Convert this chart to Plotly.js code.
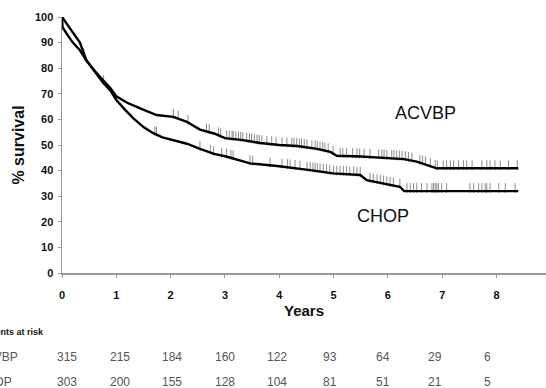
<!DOCTYPE html>
<html><head><meta charset="utf-8">
<script src="https://cdn.plot.ly/plotly-3.0.1.min.js"></script>
<style>html,body{margin:0;padding:0;background:#fff;}#chart{width:546px;height:388px;}</style>
</head><body><div id="chart"></div>
<script>
// ---- data ----
const acvbpTimes = [0, 0.01, 0.1, 0.2, 0.33, 0.45, 0.6, 0.75, 0.9, 1.0, 1.2, 1.44, 1.6, 1.74, 2.05, 2.3, 2.54, 2.8, 3.0, 3.3, 3.65, 4.0, 4.33, 4.7, 4.94, 5.06, 5.5, 6.04, 6.3, 6.53, 6.75, 6.9, 8.4];
const acvbpSurv  = [100, 96, 93, 90, 87, 83, 79, 75.5, 72, 69, 66.5, 64.3, 63, 61.7, 61, 59, 56, 54.5, 52.7, 52, 50.8, 50, 49.6, 48.5, 47.3, 45.8, 45.5, 45, 44.5, 43.5, 42, 40.9, 40.9];
const chopTimes  = [0, 0.1, 0.2, 0.33, 0.45, 0.6, 0.75, 0.9, 1.0, 1.15, 1.31, 1.5, 1.68, 1.85, 2.05, 2.3, 2.54, 2.8, 3.04, 3.2, 3.46, 3.96, 4.3, 4.57, 4.99, 5.49, 5.61, 5.9, 6.22, 6.3, 8.4];
const chopSurv   = [100, 97, 93.5, 90, 83, 78.5, 74.5, 71, 67.6, 64, 60.5, 57, 54.6, 53, 52, 50.5, 48.5, 46.5, 45.4, 44.5, 42.8, 41.8, 41, 40.2, 38.9, 38.3, 36.3, 35, 33.7, 32, 32];
const acvbpCensor = [0.4, 2.05, 2.14, 2.32, 2.66, 2.71, 2.88, 2.92, 3.03, 3.08, 3.13, 3.15, 3.20, 3.25, 3.29, 3.33, 3.40, 3.45, 3.49, 3.54, 3.59, 3.63, 3.68, 3.77, 3.86, 3.94, 4.05, 4.14, 4.23, 4.27, 4.32, 4.37, 4.41, 4.46, 4.51, 4.60, 4.66, 4.70, 4.75, 4.80, 4.84, 4.90, 4.99, 5.12, 5.17, 5.24, 5.35, 5.43, 5.48, 5.56, 5.67, 5.83, 5.89, 5.93, 5.98, 6.07, 6.11, 6.16, 6.21, 6.26, 6.32, 6.38, 6.44, 6.59, 6.64, 6.69, 6.78, 6.87, 6.91, 7.02, 7.08, 7.15, 7.21, 7.30, 7.39, 7.45, 7.55, 7.73, 7.82, 7.88, 7.97, 8.07, 8.22, 8.38];
const chopCensor = [0.76, 1.71, 1.74, 2.54, 2.73, 2.79, 2.94, 3.03, 3.11, 3.15, 3.46, 3.51, 3.83, 4.05, 4.15, 4.20, 4.29, 4.38, 4.51, 4.57, 4.62, 4.66, 4.70, 4.75, 4.81, 4.87, 4.93, 5.00, 5.06, 5.12, 5.18, 5.24, 5.30, 5.37, 5.43, 5.49, 5.67, 5.73, 5.80, 5.86, 5.92, 5.98, 6.04, 6.10, 6.22, 6.35, 6.41, 6.47, 6.53, 6.62, 6.72, 6.81, 6.84, 6.87, 6.90, 6.93, 6.99, 7.08, 7.51, 7.58, 7.67, 7.73, 7.79, 7.82, 7.88, 8.04, 8.16, 8.34];
const xTicks = [0, 1, 2, 3, 4, 5, 6, 7, 8];
const yTicks = [0, 10, 20, 30, 40, 50, 60, 70, 80, 90, 100];
const groups = ['ACVBP', 'CHOP'];
const atRiskACVBP = [315, 215, 184, 160, 122, 93, 64, 29, 6];
const atRiskCHOP  = [303, 200, 155, 128, 104, 81, 51, 21, 5];
const riskTitle = 'Patients at risk';

// ---- helpers ----
function survAt(times, vals, t) {
  for (let i = 1; i < times.length; i++) {
    if (t <= times[i]) {
      const f = (t - times[i - 1]) / (times[i] - times[i - 1]);
      return vals[i - 1] + f * (vals[i] - vals[i - 1]);
    }
  }
  return vals[vals.length - 1];
}
const tickOffset = 1.2;
const FONT = 'Liberation Sans, Arial, sans-serif';

const curveLine = {color: '#000', width: 2.4, shape: 'linear'};
const censorMarker = {symbol: 'line-ns-open', size: 7, color: '#8c8c8c', line: {color: '#8c8c8c', width: 1}};

const traces = [
  {x: acvbpCensor, y: acvbpCensor.map(t => survAt(acvbpTimes, acvbpSurv, t) + tickOffset), mode: 'markers', marker: censorMarker, hoverinfo: 'skip', cliponaxis: false},
  {x: chopCensor, y: chopCensor.map(t => survAt(chopTimes, chopSurv, t) + tickOffset), mode: 'markers', marker: censorMarker, hoverinfo: 'skip', cliponaxis: false},
  {x: acvbpTimes, y: acvbpSurv, mode: 'lines', line: curveLine, name: groups[0], cliponaxis: false},
  {x: chopTimes, y: chopSurv, mode: 'lines', line: curveLine, name: groups[1], cliponaxis: false}
];

const numFont = {family: FONT, size: 12, color: '#555'};
const annotations = [
  {x: 6.7, y: 62.5, xref: 'x', yref: 'y', text: groups[0], showarrow: false, font: {family: FONT, size: 18, color: '#111'}},
  {x: 5.91, y: 22.3, xref: 'x', yref: 'y', text: groups[1], showarrow: false, font: {family: FONT, size: 18, color: '#111'}},
  {x: -0.033, y: -0.23, xref: 'paper', yref: 'paper', xanchor: 'right', yanchor: 'middle', text: '<b>' + riskTitle + '</b>', showarrow: false, font: {family: FONT, size: 9, color: '#111'}},
  {x: -0.18, y: -0.328, xref: 'paper', yref: 'paper', xanchor: 'left', yanchor: 'middle', text: groups[0], showarrow: false, font: numFont},
  {x: -0.18, y: -0.426, xref: 'paper', yref: 'paper', xanchor: 'left', yanchor: 'middle', text: groups[1], showarrow: false, font: numFont}
];
xTicks.forEach((t, i) => {
  annotations.push({x: t, y: -0.328, xref: 'x', yref: 'paper', xshift: 5 - 1.7 * i, yanchor: 'middle', text: String(atRiskACVBP[i]), showarrow: false, font: numFont});
  annotations.push({x: t, y: -0.426, xref: 'x', yref: 'paper', xshift: 5 - 1.7 * i, yanchor: 'middle', text: String(atRiskCHOP[i]), showarrow: false, font: numFont});
});

const layout = {
  width: 546, height: 388,
  margin: {l: 62, r: 0, t: 17, b: 115},
  paper_bgcolor: '#fff', plot_bgcolor: '#fff',
  showlegend: false,
  font: {family: FONT, color: '#111'},
  xaxis: {
    range: [0, 8.91], tickvals: xTicks, ticktext: xTicks.map(v => '<b>' + v + '</b>'),
    showgrid: false, zeroline: false, showline: true, linecolor: '#999', linewidth: 1.5,
    ticks: 'outside', ticklen: 3, tickcolor: '#999', tickwidth: 1,
    tickfont: {family: FONT, size: 11, color: '#111'},
    ticklabelstandoff: 8,
    title: {text: '<b>Years</b>', font: {family: FONT, size: 15, color: '#111'}, standoff: 6}
  },
  yaxis: {
    range: [0, 100], tickvals: yTicks, ticktext: yTicks.map(v => '<b>' + v + '</b>'),
    showgrid: false, zeroline: false, showline: true, linecolor: '#999', linewidth: 1.5,
    ticks: 'outside', ticklen: 3, tickcolor: '#999', tickwidth: 1,
    tickfont: {family: FONT, size: 11, color: '#111'},
    ticklabelstandoff: 2,
    title: {text: '<b>% survival</b>', font: {family: FONT, size: 16, color: '#111'}, standoff: 6}
  },
  annotations: annotations
};

Plotly.newPlot('chart', traces, layout, {staticPlot: true, displayModeBar: false});
</script>
</body></html>
